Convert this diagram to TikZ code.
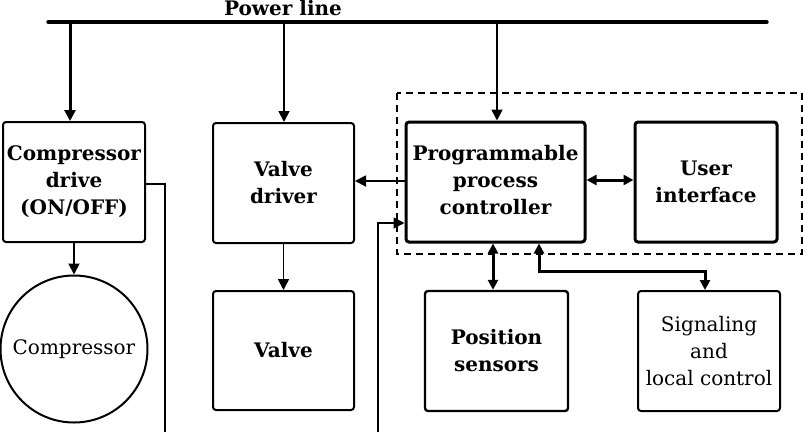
\documentclass[tikz,border=0pt]{standalone}
\usepackage{fontspec}
\setmainfont{DejaVu Serif}
\usetikzlibrary{arrows.meta}
\begin{document}
\begin{tikzpicture}[x=1pt,y=-1pt,
  every node/.style={font=\fontsize{20}{27}\selectfont},
  blk/.style={draw,line width=2pt,rounded corners=3pt,align=center,inner sep=0pt,font=\bfseries\fontsize{20}{27}\selectfont},
  thickblk/.style={blk,line width=3pt},
  conn/.style={line width=1.8pt,-{Triangle[length=11pt,width=11pt]}},
  bconn/.style={line width=3pt,{Triangle[length=10pt,width=10pt]}-{Triangle[length=10pt,width=10pt]}},
  plain/.style={line width=1.8pt}]
\useasboundingbox (0,0) rectangle (809,432);
% power line
\coordinate (pl0) at (48,22);
\coordinate (pl1) at (767,22);
\draw[line width=3.4pt,line cap=round] (pl0) -- (pl1);
\node[font=\bfseries\fontsize{20}{24}\selectfont,anchor=base] (pltext) at (283,15) {Power line};
\coordinate (p1) at (70,22);
\coordinate (p2) at (284,22);
\coordinate (p3) at (497,22);
% blocks
\node[blk,minimum width=142pt,minimum height=120pt] (cd) at (74,182) {Compressor\\drive\\(ON/OFF)};
\node[blk,minimum width=141pt,minimum height=120pt] (vd) at (283.5,183) {Valve\\driver};
\node[draw,circle,line width=2pt,minimum size=147pt,inner sep=0pt] (comp) at (74,349) {Compressor};
\node[blk,minimum width=141pt,minimum height=119pt] (valve) at (283.5,350.5) {Valve};
\draw[dashed,line width=1.4pt,dash pattern=on 7pt off 5pt] (397,93) rectangle (802,254);
\node[thickblk,minimum width=179pt,minimum height=120pt] (ppc) at (495.5,182) {\raisebox{-3pt}{\begin{tabular}{@{}c@{}}Programmable\\process\\controller\end{tabular}}};
\node[thickblk,minimum width=142pt,minimum height=120pt] (ui) at (706,182) {User\\interface};
\node[blk,line width=2.4pt,minimum width=143pt,minimum height=120pt] (pos) at (496.5,351) {Position\\sensors};
\node[blk,font=\fontsize{20}{27}\selectfont,minimum width=142pt,minimum height=120pt] (sig) at (709,351) {Signaling\\and\\local control};
% connectors
\draw[conn,line width=3pt] (p1) -- (p1 |- cd.north);
\draw[conn] (p2) -- (p2 |- vd.north);
\draw[conn] (p3) -- (p3 |- ppc.north);
\draw[conn] (cd.south) -- (comp.north);
\draw[conn] (vd.south) -- (valve.north);
\coordinate (cdo) at (165,432);
\draw[plain] (cd.east |- 0,184) -- (165,184) -- (cdo);
\draw[conn] (ppc.west |- 0,181) -- (vd.east |- 0,181);
\coordinate (ppcin) at (378,432);
\draw[conn] (ppcin) -- (378,223) -- (ppc.west |- 0,223);
\draw[bconn] (ppc.east |- 0,180) -- (ui.west |- 0,180);
\draw[bconn] (ppc.south -| 493,0) -- (pos.north -| 493,0);
\draw[bconn] (ppc.south -| 539,0) -- (539,271) -| (sig.north -| 705,0);
\end{tikzpicture}
\end{document}
